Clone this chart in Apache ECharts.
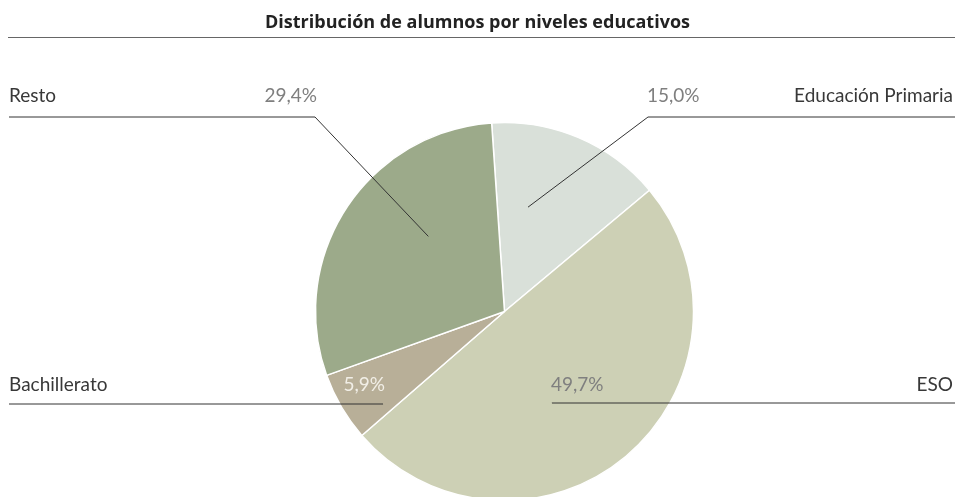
<!DOCTYPE html>
<html>
<head>
<meta charset="utf-8">
<script src="https://cdn.jsdelivr.net/npm/echarts@6/dist/echarts.min.js"></script>
<style>
  html, body { margin: 0; padding: 0; background: #fff; }
  #chart { width: 955px; height: 497px; }
</style>
</head>
<body>
<div id="chart"></div>
<script>
// Distribución de alumnos por niveles educativos (%)
const categories = ['Educación Primaria', 'ESO', 'Bachillerato', 'Resto'];
const shares = [15.0, 49.7, 5.9, 29.4];
const sliceColors = ['#d9e0d9', '#cdd0b5', '#b8af98', '#9caa8a'];

// Callout placement for each slice: side of the chart, where the leader
// starts inside the slice (angle clockwise from 12 o'clock, fraction of radius),
// x of the elbow, y of the horizontal rule and y of the text row.
const callouts = [
  { side: 'right', angle: 12.7,  dist: 0.566, elbowX: 648, ruleY: 117, textY: 96,  light: false },
  { side: 'right', angle: 152.6, dist: 0.545, elbowX: 552, ruleY: 403, textY: 385, light: false },
  { side: 'left',  angle: 232.7, dist: 0.808, elbowX: 383, ruleY: 404, textY: 385, light: true  },
  { side: 'left',  angle: -45.4, dist: 0.566, elbowX: 315, ruleY: 117, textY: 96,  light: false }
];

const W = 955, H = 497;
const pieCenter = [504.5, 311.5];
const pieRadius = 189;
const leftEdge = 9, rightEdge = 953;
const labelFont = 'Lato';

const fmtPct = v => v.toFixed(1).replace('.', ',') + '%';

const txt = (color, align) => ({ fontFamily: labelFont, fontSize: 19, color, align });
const richStyles = {
  nl: txt('#383838', 'left'),
  nr: txt('#383838', 'right'),
  pl: txt('#7f7f7f', 'left'),
  pr: txt('#7f7f7f', 'right'),
  wl: txt('#f1eee6', 'left'),
  wr: txt('#f1eee6', 'right')
};

const sliceData = categories.map((name, i) => ({
  name,
  value: shares[i],
  itemStyle: { color: sliceColors[i] }
}));

const chart = echarts.init(document.getElementById('chart'), null, { renderer: 'canvas' });

chart.setOption({
  animation: false,
  backgroundColor: '#ffffff',
  title: {
    text: 'Distribución de alumnos por niveles educativos',
    left: 'center',
    top: 9,
    textStyle: { fontFamily: 'Open Sans', fontSize: 18, fontWeight: 'bold', color: '#222' }
  },
  graphic: [{
    type: 'line',
    shape: { x1: 8, y1: 37.5, x2: W, y2: 37.5 },
    style: { stroke: '#666', lineWidth: 1.2 },
    silent: true
  }],
  series: [
    {
      // the slices
      type: 'pie',
      center: pieCenter,
      radius: [0, pieRadius],
      startAngle: 93.9,
      clockwise: true,
      itemStyle: { borderColor: '#ffffff', borderWidth: 1.5 },
      emphasis: { disabled: true },
      label: { show: false },
      labelLine: { show: false },
      data: sliceData
    },
    {
      // same slices, invisible, carrying the callouts above the fills
      type: 'pie',
      z: 5,
      silent: true,
      center: pieCenter,
      radius: [0, pieRadius],
      startAngle: 93.9,
      clockwise: true,
      avoidLabelOverlap: false,
      itemStyle: { color: 'rgba(0,0,0,0)', borderWidth: 0 },
      emphasis: { disabled: true },
      data: sliceData.map(d => ({ name: d.name, value: d.value })),
      label: {
        show: true,
        position: 'outside',
        fontFamily: labelFont,
        formatter: p => {
          const c = callouts[p.dataIndex];
          const pk = c.light ? 'w' : 'p';
          if (c.side === 'left') {
            return '{nl|' + p.name + '}{' + pk + 'r|' + fmtPct(p.value) + '}';
          }
          return '{' + pk + 'l|' + fmtPct(p.value) + '}{nr|' + p.name + '}';
        },
        rich: richStyles
      },
      labelLine: {
        show: true,
        smooth: false,
        lineStyle: { color: '#333', width: 1 }
      },
      labelLayout: params => {
        const c = callouts[params.dataIndex];
        const a = c.angle * Math.PI / 180;
        const ax = pieCenter[0] + Math.sin(a) * pieRadius * c.dist;
        const ay = pieCenter[1] - Math.cos(a) * pieRadius * c.dist;
        const left = c.side === 'left';
        const x0 = left ? leftEdge : c.elbowX - 1;
        const x1 = left ? c.elbowX + 2 : rightEdge;
        const ruleEnd = left ? leftEdge : W;
        return {
          x: x0,
          y: c.textY,
          align: 'left',
          verticalAlign: 'middle',
          width: x1 - x0,
          labelLinePoints: [[ax, ay], [c.elbowX, c.ruleY], [ruleEnd, c.ruleY]]
        };
      }
    }
  ]
});
</script>
</body>
</html>
